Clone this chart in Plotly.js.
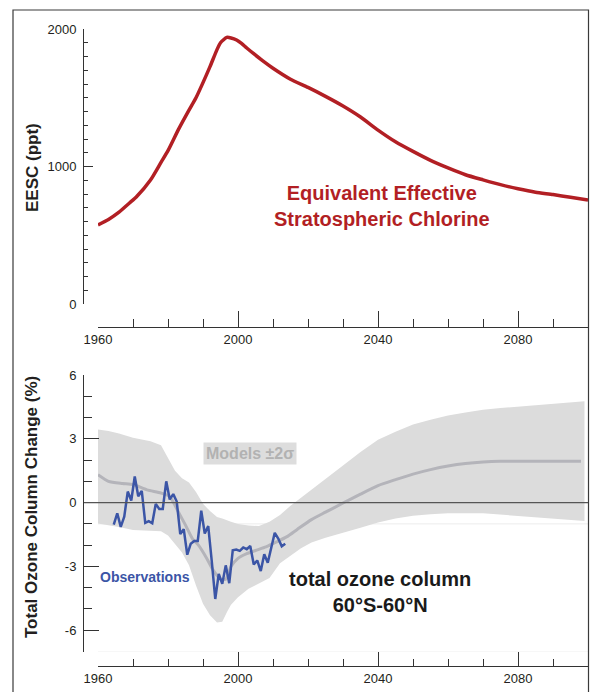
<!DOCTYPE html>
<html>
<head>
<meta charset="utf-8">
<script src="https://cdn.plot.ly/plotly-3.0.1.min.js"></script>
<style>
  html, body { margin: 0; padding: 0; background: #ffffff; }
  #chart { width: 592px; height: 692px; }
</style>
</head>
<body>
<div id="chart"></div>
<script>
// ---------- Data ----------
// Top panel: Equivalent Effective Stratospheric Chlorine (ppt)
const eescYears  = [1960, 1963, 1966, 1969, 1971, 1975, 1978, 1980, 1983, 1986, 1988, 1990, 1992, 1994, 1995, 1996.8, 1998, 1999.6, 2001, 2002.5, 2004.4, 2007, 2010, 2015, 2020, 2025, 2030, 2035, 2040, 2045, 2050, 2055, 2060, 2065, 2070, 2075, 2080, 2085, 2090, 2095, 2100];
const eescValues = [575, 615, 668, 735, 780, 902, 1030, 1115, 1270, 1410, 1500, 1610, 1726, 1850, 1900, 1939, 1935, 1920, 1895, 1862, 1822, 1770, 1715, 1635, 1575, 1510, 1440, 1360, 1265, 1180, 1110, 1045, 990, 940, 903, 868, 838, 813, 796, 776, 756];

// Bottom panel: models +/- 2 sigma band
const bandYears = [1960, 1963, 1966, 1970, 1975, 1978, 1980, 1982, 1984, 1986, 1988, 1990, 1992, 1994, 1995.5, 1997, 1998, 2000, 2003, 2006, 2009, 2012, 2015, 2018, 2021, 2025, 2030, 2035, 2040, 2045, 2050, 2055, 2060, 2065, 2070, 2075, 2080, 2085, 2090, 2095, 2099];
const bandUpper = [3.44, 3.37, 3.25, 3.05, 2.89, 2.70, 2.10, 1.50, 1.15, 0.95, 0.50, -0.05, -0.40, -0.68, -0.75, -0.85, -0.90, -1.00, -1.08, -1.10, -0.90, -0.58, -0.15, 0.23, 0.62, 1.10, 1.75, 2.38, 2.95, 3.33, 3.67, 3.90, 4.10, 4.24, 4.37, 4.45, 4.52, 4.59, 4.65, 4.70, 4.76];
const bandLower = [-0.98, -1.08, -1.15, -1.29, -1.32, -1.35, -1.55, -1.95, -2.35, -2.95, -3.90, -4.75, -5.30, -5.64, -5.60, -5.10, -4.80, -4.45, -4.05, -3.80, -3.55, -2.85, -2.50, -2.15, -1.88, -1.65, -1.42, -1.18, -0.93, -0.75, -0.62, -0.55, -0.50, -0.50, -0.50, -0.54, -0.60, -0.67, -0.75, -0.82, -0.87];

// Bottom panel: model mean
const meanYears  = [1960, 1963, 1967, 1970, 1974, 1978, 1980.5, 1983, 1985, 1987, 1988.7, 1991, 1993, 1995, 1996.5, 1998, 2000, 2002.5, 2005, 2008, 2011, 2014, 2017, 2021, 2025, 2030, 2035, 2040, 2045, 2050, 2055, 2060, 2065, 2070, 2075, 2080, 2090, 2098];
const meanValues = [1.31, 1.00, 0.90, 0.85, 0.60, 0.45, 0.28, -0.45, -1.06, -1.70, -2.00, -2.60, -3.20, -3.60, -3.60, -3.00, -2.62, -2.40, -2.25, -2.08, -1.85, -1.60, -1.25, -0.80, -0.45, -0.02, 0.40, 0.80, 1.08, 1.34, 1.55, 1.72, 1.84, 1.91, 1.94, 1.94, 1.94, 1.94];

// Bottom panel: observations (annual, plotted at mid-year)
const obsYears = [1964, 1965, 1966, 1967, 1968, 1969, 1970, 1971, 1972, 1973, 1974, 1975, 1976, 1977, 1978, 1979, 1980, 1981, 1982, 1983, 1984, 1985, 1986, 1987, 1988, 1989, 1990, 1991, 1992, 1993, 1994, 1995, 1996, 1997, 1998, 1999, 2000, 2001, 2002, 2003, 2004, 2005, 2006, 2007, 2008, 2009, 2010, 2011, 2012, 2013];
const obsValues = [-1.03, -0.50, -1.14, -0.66, 0.52, 0.10, 1.23, 0.30, 0.55, -0.95, -0.87, -0.97, -0.06, -0.30, -0.30, 1.00, 0.15, 0.40, 0.05, -1.48, -1.25, -2.45, -1.93, -1.80, -1.80, -0.38, -1.45, -1.10, -2.75, -4.53, -3.35, -3.82, -2.95, -3.79, -2.24, -2.21, -2.27, -2.11, -2.19, -2.04, -2.91, -2.72, -3.22, -2.43, -2.83, -2.15, -1.42, -1.69, -2.05, -1.93];

// Tick labels
const xTickVals = [1960, 2000, 2040, 2080];
const xTickText = ['1960', '2000', '2040', '2080'];
const eescTickVals = [0, 1000, 2000];
const eescTickText = ['0', '1000', '2000'];
const ozoneTickVals = [-6, -3, 0, 3, 6];
const ozoneTickText = ['-6', '-3', '0', '3', '6'];

// ---------- Helpers ----------
const W = 592, H = 692;
const px = v => v / W;
const py = v => 1 - v / H;

const FONT = 'Liberation Sans, Arial, Helvetica, sans-serif';
const AX = '#333333';
const TXT = '#231f20';
const RED = '#b21f24';
const BLUE = '#3b55a6';

const bandX = bandYears.concat(bandYears.slice().reverse());
const bandY = bandUpper.concat(bandLower.slice().reverse());
const obsX = obsYears.map(y => y + 0.5);

const traces = [
  { x: eescYears, y: eescValues, xaxis: 'x', yaxis: 'y', mode: 'lines',
    line: { color: RED, width: 3.5, shape: 'spline', smoothing: 0.6 }, hoverinfo: 'skip' },
  { x: bandX, y: bandY, xaxis: 'x2', yaxis: 'y2', mode: 'lines', fill: 'toself',
    fillcolor: '#dcdcdc', line: { width: 0, color: 'rgba(0,0,0,0)' }, hoverinfo: 'skip' },
  { x: meanYears, y: meanValues, xaxis: 'x2', yaxis: 'y2', mode: 'lines',
    line: { color: '#b4b4ba', width: 3, shape: 'spline', smoothing: 0.6 }, hoverinfo: 'skip' },
  { x: obsX, y: obsValues, xaxis: 'x2', yaxis: 'y2', mode: 'lines',
    line: { color: BLUE, width: 2.5 }, hoverinfo: 'skip' }
];

function xAxis(posPx, major, minor) {
  return {
    domain: [px(98), px(588)], range: [1960, 2100], anchor: 'free', position: py(posPx),
    showline: true, linecolor: AX, linewidth: 1, showgrid: false, zeroline: false,
    ticks: 'inside', ticklen: major, tickwidth: 1, tickcolor: AX,
    tickmode: 'array', tickvals: xTickVals, ticktext: xTickText,
    tickfont: { family: FONT, size: 13, color: TXT },
    minor: { dtick: 10, tick0: 1960, ticks: 'inside', ticklen: minor, tickwidth: 1, tickcolor: AX, showgrid: false },
    fixedrange: true
  };
}
function yAxis(dom, range, vals, text, major, minor, mdt) {
  return {
    domain: dom, range: range, anchor: 'free', position: px(83),
    showline: true, linecolor: AX, linewidth: 1, showgrid: false, zeroline: false,
    ticks: 'inside', ticklen: major, tickwidth: 1, tickcolor: AX,
    tickmode: 'array', tickvals: vals, ticktext: text, ticklabelstandoff: 4,
    tickfont: { family: FONT, size: 13, color: TXT },
    minor: { dtick: mdt, tick0: 0, ticks: 'inside', ticklen: minor, tickwidth: 1, tickcolor: AX, showgrid: false },
    fixedrange: true
  };
}

function note(text, x, y, font, extra) {
  return Object.assign({ text: text, xref: 'paper', yref: 'paper', x: px(x), y: py(y),
    xanchor: 'center', yanchor: 'middle', showarrow: false, font: font }, extra || {});
}

const layout = {
  width: W, height: H,
  margin: { l: 0, r: 0, t: 0, b: 0 },
  paper_bgcolor: '#ffffff', plot_bgcolor: 'rgba(0,0,0,0)',
  showlegend: false,
  xaxis: xAxis(327, 16, 8),
  yaxis: yAxis([py(304), py(29)], [0, 2000], eescTickVals, eescTickText, 9, 4, 100),
  xaxis2: xAxis(666, 14, 7),
  yaxis2: yAxis([py(651.5), py(375)], [-7, 6], ozoneTickVals, ozoneTickText, 15, 8, 1),
  shapes: [
    // outer frame
    { type: 'rect', xref: 'paper', yref: 'paper', x0: px(13), x1: px(588.5), y0: py(720), y1: py(10),
      line: { color: '#3a3a3a', width: 1.2 }, layer: 'above' },
    // faint guide lines inside the band
    { type: 'line', xref: 'x2', yref: 'y2', x0: 1960, x1: 2100, y0: -1, y1: -1,
      line: { color: '#ececec', width: 1 }, layer: 'below' },
    { type: 'line', xref: 'x2', yref: 'y2', x0: 1960, x1: 2100, y0: -7, y1: -7,
      line: { color: '#f0f0f0', width: 1 }, layer: 'below' },
    // zero line
    { type: 'line', xref: 'paper', yref: 'y2', x0: px(84), x1: px(588), y0: 0, y1: 0,
      line: { color: '#555555', width: 1.2 }, layer: 'above' }
  ],
  annotations: [
    note('<b>EESC (ppt)</b>', 32, 168, { family: FONT, size: 17, color: TXT }, { textangle: -90 }),
    note('<b>Total Ozone Column Change (%)</b>', 32, 507, { family: FONT, size: 17, color: TXT }, { textangle: -90 }),
    note('<b>Equivalent Effective<br>Stratospheric Chlorine</b>', 382, 205.5,
      { family: FONT, size: 20, color: RED }, { align: 'center' }),
    note('<b>Models ±2σ</b>', 249.5, 453, { family: FONT, size: 16, color: '#b2b2b2' },
      { bgcolor: '#dddddd', borderpad: 2 }),
    note('<b>Observations</b>', 98, 577, { family: FONT, size: 14, color: BLUE }, { xanchor: 'left' }),
    note('<b>total ozone column<br>60°S-60°N</b>', 380, 591.5,
      { family: FONT, size: 20, color: '#1a1a1a' }, { align: 'center' })
  ]
};

Plotly.newPlot('chart', traces, layout, { staticPlot: true, displayModeBar: false });
</script>
</body>
</html>
